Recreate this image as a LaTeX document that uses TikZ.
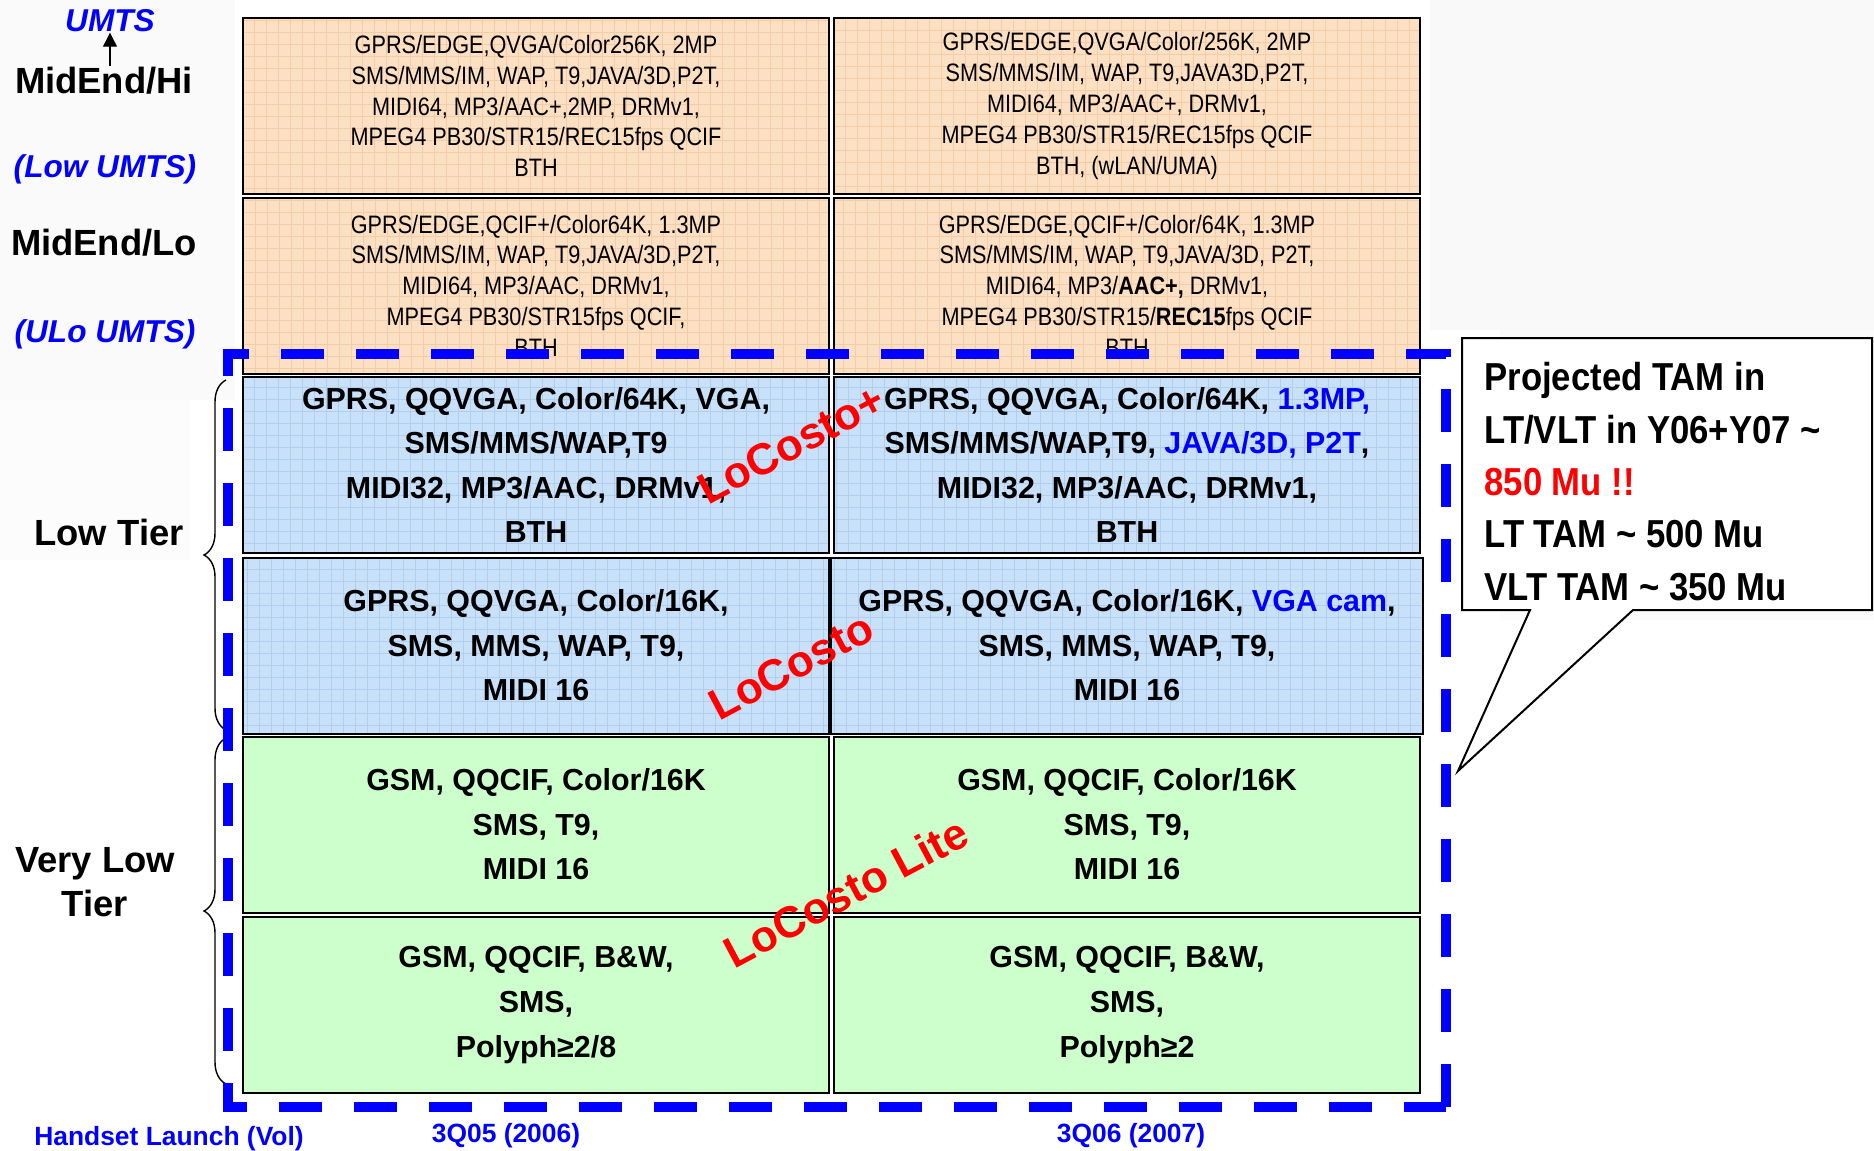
\documentclass[tikz,border=0pt]{standalone}
\usepackage{fontspec}
\setmainfont{Liberation Sans}
\newfontfamily\narrowfont{Liberation Sans}[FakeStretch=0.86]
\newfontfamily\calloutfont{Liberation Sans}[FakeStretch=0.89]
\usetikzlibrary{arrows.meta,decorations.pathreplacing}

\definecolor{peach}{RGB}{251,224,196}
\definecolor{peachgrid}{RGB}{246,204,166}
\definecolor{lowblue}{RGB}{200,224,248}
\definecolor{lowgrid}{RGB}{176,206,240}
\definecolor{vlgreen}{RGB}{204,255,204}
\definecolor{tierblue}{RGB}{0,0,255}

\tikzset{
  cell/.style={draw=black, line width=1pt, inner sep=0pt, outer sep=0pt, align=center,
    minimum width=293pt, minimum height=88pt},
  midcell/.style={cell, fill=peach, font=\narrowfont\fontsize{12.6}{15.4}\selectfont,
    path picture={\draw[peachgrid, line width=0.3pt, step=6pt]
      (path picture bounding box.south west) grid (path picture bounding box.north east);}},
  lowcell/.style={cell, fill=lowblue, font=\bfseries\fontsize{15.2}{22.3}\selectfont,
    path picture={\draw[lowgrid, line width=0.3pt, step=6pt]
      (path picture bounding box.south west) grid (path picture bounding box.north east);}},
  vlowcell/.style={cell, fill=vlgreen, font=\bfseries\fontsize{15.2}{22.3}\selectfont},
  tier/.style={inner sep=0pt, font=\bfseries\fontsize{18.2}{22}\selectfont},
  umtslabel/.style={inner sep=0pt, text=tierblue, font=\bfseries\itshape\fontsize{15.8}{19}\selectfont},
  quarter/.style={inner sep=0pt, text=tierblue, font=\bfseries\fontsize{13.2}{16}\selectfont},
  costo/.style={inner sep=0pt, text=red, rotate=28, font=\bfseries\fontsize{22}{26}\selectfont},
  launchline/.style={draw=tierblue, line width=5pt, dash pattern=on 21.5pt off 16pt},
}

\begin{document}
\begin{tikzpicture}[x=0.5pt,y=-0.5pt]
\useasboundingbox (0,0) rectangle (1874,1151);

% watermark
\fill[gray!5] (1430,0) rectangle (1874,330);
\fill[gray!3] (1500,330) rectangle (1874,620);
\fill[gray!4] (0,0) rectangle (235,400);
\fill[gray!2] (0,400) rectangle (190,560);

% MidEnd rows
\node[midcell] (hiA) at (536,106) {GPRS/EDGE,QVGA/Color256K, 2MP\\SMS/MMS/IM, WAP, T9,JAVA/3D,P2T,\\MIDI64, MP3/AAC+,2MP, DRMv1,\\MPEG4 PB30/STR15/REC15fps QCIF\\BTH};
\node[midcell] (hiB) at (1127,106) {GPRS/EDGE,QVGA/Color/256K, 2MP\\SMS/MMS/IM, WAP, T9,JAVA3D,P2T,\\MIDI64, MP3/AAC+, DRMv1,\\MPEG4 PB30/STR15/REC15fps QCIF\\BTH, (wLAN/UMA)};
\node[midcell] (loA) at (536,285.5) {GPRS/EDGE,QCIF+/Color64K, 1.3MP\\SMS/MMS/IM, WAP, T9,JAVA/3D,P2T,\\MIDI64, MP3/AAC, DRMv1,\\MPEG4 PB30/STR15fps QCIF,\\BTH};
\node[midcell] (loB) at (1127,285.5) {GPRS/EDGE,QCIF+/Color/64K, 1.3MP\\SMS/MMS/IM, WAP, T9,JAVA/3D, P2T,\\MIDI64, MP3/{\bfseries AAC+,} DRMv1,\\MPEG4 PB30/STR15/{\bfseries REC15}fps QCIF\\BTH};

% Low tier
\node[lowcell] (ltA) at (536,465) {GPRS, QQVGA, Color/64K, VGA,\\SMS/MMS/WAP,T9\\MIDI32, MP3/AAC, DRMv1,\\BTH};
\node[lowcell] (ltB) at (1127,465) {GPRS, QQVGA, Color/64K, \textcolor{tierblue}{1.3MP,}\\SMS/MMS/WAP,T9, \textcolor{tierblue}{JAVA/3D, P2T},\\MIDI32, MP3/AAC, DRMv1,\\BTH};
\node[lowcell] (lt2A) at (536,645.5) {GPRS, QQVGA, Color/16K,\\SMS, MMS, WAP, T9,\\MIDI 16};
\node[lowcell, minimum width=296pt] (lt2B) at (1127,645.5) {GPRS, QQVGA, Color/16K, \textcolor{tierblue}{VGA cam},\\SMS, MMS, WAP, T9,\\MIDI 16};

% Very low tier
\node[vlowcell] (vltA) at (536,824.5) {GSM, QQCIF, Color/16K\\SMS, T9,\\MIDI 16};
\node[vlowcell] (vltB) at (1127,824.5) {GSM, QQCIF, Color/16K\\SMS, T9,\\MIDI 16};
\node[vlowcell] (vlt2A) at (536,1005) {GSM, QQCIF, B\&W,\\SMS,\\Polyph≥2/8};
\node[vlowcell] (vlt2B) at (1127,1005) {GSM, QQCIF, B\&W,\\SMS,\\Polyph≥2};

% left labels
\node[umtslabel, anchor=base] (umts) at (110,32) {UMTS};
\node[tier, anchor=base] (hi) at (104,93) {MidEnd/Hi};
\node[umtslabel, anchor=base] (lowumts) at (105,177) {(Low UMTS)};
\node[tier, anchor=base] (lo) at (104,255) {MidEnd/Lo};
\node[umtslabel, anchor=base] (ulo) at (105,342) {(ULo UMTS)};
\node[tier, anchor=base] (lt) at (109,545) {Low Tier};
\node[tier, align=center] (vlt) at (95,882) {Very Low\\Tier};
\draw[-{Triangle[width=7pt,length=7pt]}, line width=0.6pt] (hi.north -| umts.south) -- (umts.south);

% braces
\draw[decorate, decoration={brace, amplitude=11pt}, line width=0.7pt] (226,730) -- (226,380);
\draw[decorate, decoration={brace, amplitude=11pt}, line width=0.7pt] (226,1084) -- (226,738);

% bottom labels
\node[quarter, anchor=base] (launch) at (169,1145) {Handset Launch (Vol)};
\node[quarter, anchor=base] (q05) at (506,1142) {3Q05 (2006)};
\node[quarter, anchor=base] (q06) at (1131,1142) {3Q06 (2007)};

% LoCosto family
\node[costo] (costoplus) at (791,444) {LoCosto+};
\node[costo] (costo) at (791,666) {LoCosto};
\node[costo] (costolite) at (846,892) {LoCosto Lite};

% low-tier frame
\draw[launchline] (1446,1107) rectangle (228,354);

% callout
\draw[fill=white, line width=1pt] (1462,338) -- (1872,338) -- (1872,610) -- (1633,610)
  -- (1458,771) -- (1530,610) -- (1462,610) -- cycle;
\node[anchor=north west, inner sep=0pt, align=left,
  font=\calloutfont\bfseries\fontsize{19.5}{26.2}\selectfont] (tam) at (1484,362)
  {Projected TAM in\\LT/VLT in Y06+Y07 \textasciitilde\\\textcolor{red}{850 Mu !!}\\LT TAM \textasciitilde{} 500 Mu\\VLT TAM \textasciitilde{} 350 Mu};

\end{tikzpicture}
\end{document}
